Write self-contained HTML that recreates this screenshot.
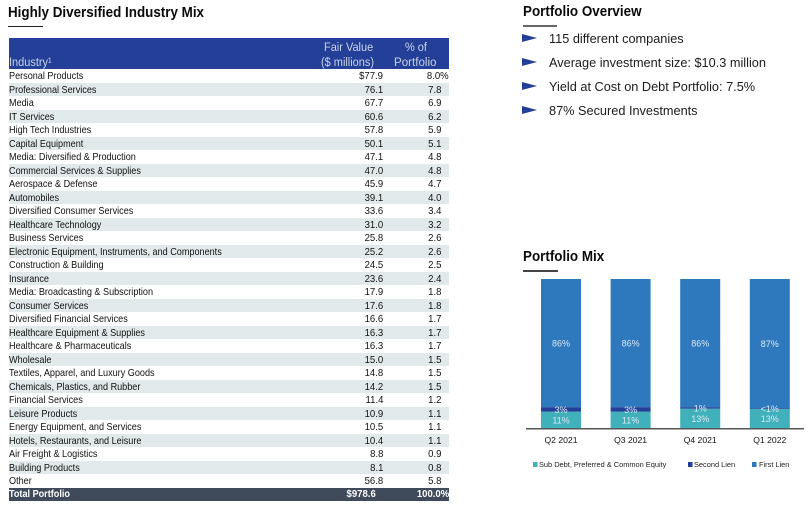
<!DOCTYPE html>
<html><head><meta charset="utf-8">
<style>
html,body{margin:0;padding:0;background:#fff}
body{width:812px;height:505px;overflow:hidden;position:relative;font-family:"Liberation Sans",sans-serif;color:#111}
.title{position:absolute;font-weight:bold;font-size:14.5px;line-height:18px;color:#0a0a0a;white-space:nowrap;transform-origin:left center}
.rule{position:absolute;height:1px}
#table{position:absolute;left:9px;top:38px;width:440px}
#head{position:relative;height:31px;background:#233f97;color:#c9d3e8;font-size:12.2px}
#head span{position:absolute;white-space:nowrap;line-height:14px}
.row{position:relative;height:13.5px;font-size:10.4px;line-height:13.5px;white-space:nowrap;background:#fff}
.row.s{background:#e2e9ea}
.row span{top:1px}
.n{position:absolute;left:0;transform:scaleX(.875);transform-origin:left center}
.v{position:absolute;right:66px;transform:scaleX(.92);transform-origin:right center}
.p{position:absolute;right:8px;transform:scaleX(.92);transform-origin:right center}
.p.x{right:0}
#total{background:#3f4a5a;color:#fff;font-weight:bold}
#total span{top:0}
#total .v{right:73px}
.b{position:absolute;left:549px;font-size:13.2px;line-height:16px;white-space:nowrap;transform:scaleX(.965);transform-origin:left center;color:#1c1c1c}
.tri{position:absolute;left:522px}
#chart{position:absolute;left:0;top:0}
</style></head>
<body>
<div class="title" style="left:8px;top:4px;transform:scaleX(.925)">Highly Diversified Industry Mix</div>
<div class="rule" style="left:8px;top:26px;width:35px;background:#222"></div>

<div id="table">
<div id="head">
<span style="left:0;top:17px;transform:scaleX(.9);transform-origin:left center">Industry¹</span>
<span style="left:315px;top:2px;transform:scaleX(.9);transform-origin:left center">Fair Value</span>
<span style="left:312px;top:17px;transform:scaleX(.9);transform-origin:left center">($ millions)</span>
<span style="left:396px;top:2px;transform:scaleX(.9);transform-origin:left center">% of</span>
<span style="left:385px;top:17px;transform:scaleX(.95);transform-origin:left center">Portfolio</span>
</div>
<div>
<div class="row w"><span class="n">Personal Products</span><span class="v">$77.9</span><span class="p x">8.0%</span></div>
<div class="row s"><span class="n">Professional Services</span><span class="v">76.1</span><span class="p">7.8</span></div>
<div class="row w"><span class="n">Media</span><span class="v">67.7</span><span class="p">6.9</span></div>
<div class="row s"><span class="n">IT Services</span><span class="v">60.6</span><span class="p">6.2</span></div>
<div class="row w"><span class="n">High Tech Industries</span><span class="v">57.8</span><span class="p">5.9</span></div>
<div class="row s"><span class="n">Capital Equipment</span><span class="v">50.1</span><span class="p">5.1</span></div>
<div class="row w"><span class="n">Media: Diversified &amp; Production</span><span class="v">47.1</span><span class="p">4.8</span></div>
<div class="row s"><span class="n">Commercial Services &amp; Supplies</span><span class="v">47.0</span><span class="p">4.8</span></div>
<div class="row w"><span class="n">Aerospace &amp; Defense</span><span class="v">45.9</span><span class="p">4.7</span></div>
<div class="row s"><span class="n">Automobiles</span><span class="v">39.1</span><span class="p">4.0</span></div>
<div class="row w"><span class="n">Diversified Consumer Services</span><span class="v">33.6</span><span class="p">3.4</span></div>
<div class="row s"><span class="n">Healthcare Technology</span><span class="v">31.0</span><span class="p">3.2</span></div>
<div class="row w"><span class="n">Business Services</span><span class="v">25.8</span><span class="p">2.6</span></div>
<div class="row s"><span class="n">Electronic Equipment, Instruments, and Components</span><span class="v">25.2</span><span class="p">2.6</span></div>
<div class="row w"><span class="n">Construction &amp; Building</span><span class="v">24.5</span><span class="p">2.5</span></div>
<div class="row s"><span class="n">Insurance</span><span class="v">23.6</span><span class="p">2.4</span></div>
<div class="row w"><span class="n">Media: Broadcasting &amp; Subscription</span><span class="v">17.9</span><span class="p">1.8</span></div>
<div class="row s"><span class="n">Consumer Services</span><span class="v">17.6</span><span class="p">1.8</span></div>
<div class="row w"><span class="n">Diversified Financial Services</span><span class="v">16.6</span><span class="p">1.7</span></div>
<div class="row s"><span class="n">Healthcare Equipment &amp; Supplies</span><span class="v">16.3</span><span class="p">1.7</span></div>
<div class="row w"><span class="n">Healthcare &amp; Pharmaceuticals</span><span class="v">16.3</span><span class="p">1.7</span></div>
<div class="row s"><span class="n">Wholesale</span><span class="v">15.0</span><span class="p">1.5</span></div>
<div class="row w"><span class="n">Textiles, Apparel, and Luxury Goods</span><span class="v">14.8</span><span class="p">1.5</span></div>
<div class="row s"><span class="n">Chemicals, Plastics, and Rubber</span><span class="v">14.2</span><span class="p">1.5</span></div>
<div class="row w"><span class="n">Financial Services</span><span class="v">11.4</span><span class="p">1.2</span></div>
<div class="row s"><span class="n">Leisure Products</span><span class="v">10.9</span><span class="p">1.1</span></div>
<div class="row w"><span class="n">Energy Equipment, and Services</span><span class="v">10.5</span><span class="p">1.1</span></div>
<div class="row s"><span class="n">Hotels, Restaurants, and Leisure</span><span class="v">10.4</span><span class="p">1.1</span></div>
<div class="row w"><span class="n">Air Freight &amp; Logistics</span><span class="v">8.8</span><span class="p">0.9</span></div>
<div class="row s"><span class="n">Building Products</span><span class="v">8.1</span><span class="p">0.8</span></div>
<div class="row w"><span class="n">Other</span><span class="v">56.8</span><span class="p">5.8</span></div>
<div class="row" id="total"><span class="n">Total Portfolio</span><span class="v">$978.6</span><span class="p x">100.0%</span></div>
</div>
</div>

<div class="title" style="left:523px;top:3px;transform:scaleX(.925)">Portfolio Overview</div>
<div class="rule" style="left:523px;top:25px;width:34px;background:#666;height:1.5px"></div>

<svg class="tri" style="top:34px" width="16" height="8"><polygon points="0,0 15,4 0,8" fill="#233f97"/></svg>
<div class="b" style="top:31px">115 different companies</div>
<svg class="tri" style="top:58px" width="16" height="8"><polygon points="0,0 15,4 0,8" fill="#233f97"/></svg>
<div class="b" style="top:55px">Average investment size: $10.3 million</div>
<svg class="tri" style="top:82px" width="16" height="8"><polygon points="0,0 15,4 0,8" fill="#233f97"/></svg>
<div class="b" style="top:79px">Yield at Cost on Debt Portfolio: 7.5%</div>
<svg class="tri" style="top:106px" width="16" height="8"><polygon points="0,0 15,4 0,8" fill="#233f97"/></svg>
<div class="b" style="top:103px">87% Secured Investments</div>

<div class="title" style="left:523px;top:248px;transform:scaleX(.925)">Portfolio Mix</div>
<div class="rule" style="left:523px;top:270px;width:35px;background:#444;height:1.5px"></div>

<svg id="chart" width="812" height="505" style="pointer-events:none"></svg>

<script>
const quarters = ['Q2 2021', 'Q3 2021', 'Q4 2021', 'Q1 2022'];
const subDebt = [11, 11, 13, 13];
const secondLien = [3, 3, 1, 0.5];
const firstLien = [86, 86, 86, 87];
const seriesNames = ['Sub Debt, Preferred & Common Equity', 'Second Lien', 'First Lien'];

const NS = 'http://www.w3.org/2000/svg';
const svg = document.getElementById('chart');
const plot = { left: 541, step: 69.6, barW: 40, base: 428, height: 149 };
const colors = ['#40b0bb', '#233f97', '#2e79bd'];

function xBand(i) { return plot.left + i * plot.step; }
function yScale(share) { return plot.base - share * plot.height; }

function addRect(x, y, w, h, fill) {
  const r = document.createElementNS(NS, 'rect');
  r.setAttribute('x', x); r.setAttribute('y', y);
  r.setAttribute('width', w); r.setAttribute('height', h);
  r.setAttribute('fill', fill);
  svg.appendChild(r);
  return r;
}
function addText(x, y, str, size, fill, anchor) {
  const t = document.createElementNS(NS, 'text');
  t.setAttribute('x', x); t.setAttribute('y', y);
  t.setAttribute('font-size', size);
  t.setAttribute('fill', fill);
  t.setAttribute('text-anchor', anchor);
  t.setAttribute('font-family', '"Liberation Sans", sans-serif');
  t.textContent = str;
  svg.appendChild(t);
  return t;
}
function pctLabel(v) { return v < 1 ? '<1%' : v + '%'; }

quarters.forEach(function (q, i) {
  const values = [subDebt[i], secondLien[i], firstLien[i]];
  const total = values[0] + values[1] + values[2];
  let cum = 0;
  values.forEach(function (v, s) {
    const y0 = yScale(cum / total);
    const y1 = yScale((cum + v) / total);
    const bar = addRect(xBand(i), y1, plot.barW, y0 - y1, colors[s]);
    
    
    cum += v;
  });
  cum = 0;
  values.forEach(function (v, s) {
    const yc = (yScale(cum / total) + yScale((cum + v) / total)) / 2;
    const label = addText(xBand(i) + plot.barW / 2, yc + 3.6, pctLabel(v), 9, '#dce8f3', 'middle');
    
    
    cum += v;
  });
  const tick = addText(xBand(i) + plot.barW / 2, 443, q, 8.6, '#111', 'middle');
  
  
});

const axis = addRect(526, plot.base, 278, 1.5, '#555');



const legendSwatchX = [533, 688, 752];
seriesNames.forEach(function (name, s) {
  const sw = addRect(legendSwatchX[s], 462, 4.5, 5, colors[s]);
  
  
  const lt = addText(legendSwatchX[s] + (s === 2 ? 7 : 6), 467, name, 7.4, '#222', 'start');
  
  
});
</script>
</body></html>
